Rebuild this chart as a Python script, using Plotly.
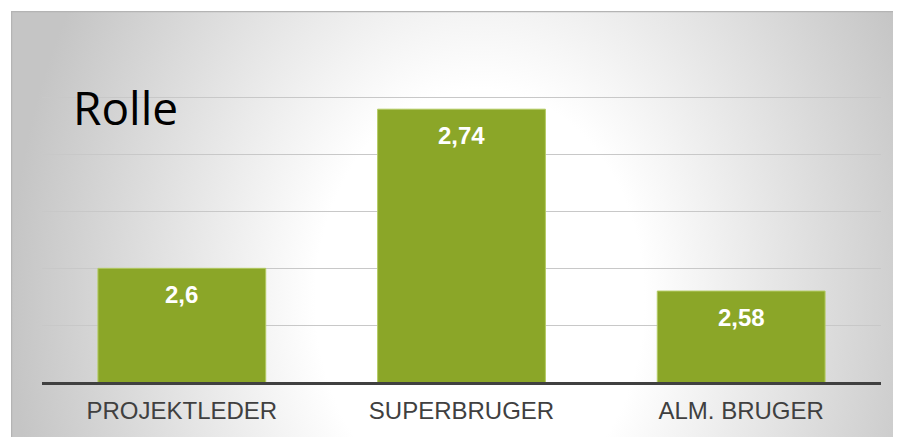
import plotly.graph_objects as go

roles = ["PROJEKTLEDER", "SUPERBRUGER", "ALM. BRUGER"]
scores = [2.6, 2.74, 2.58]
score_labels = [f"{v:g}".replace(".", ",") for v in scores]

chart_title = "Rolle"
bar_color = "#8ba628"

# elliptical grey-to-white backdrop, drawn as an svg image behind the plot
backdrop_svg = (
    "<svg xmlns='http://www.w3.org/2000/svg' width='910' height='440' viewBox='0 0 910 440'>"
    "<defs><radialGradient id='g' gradientUnits='userSpaceOnUse' cx='469' cy='0' r='470' "
    "gradientTransform='translate(0,289) scale(1,1.28)'>"
    "<stop offset='0' stop-color='#ffffff'/>"
    "<stop offset='0.35' stop-color='#ffffff'/>"
    "<stop offset='1' stop-color='#c5c5c5'/>"
    "</radialGradient></defs>"
    "<rect x='0' y='0' width='910' height='440' fill='url(#g)'/>"
    "<path d='M0.5,440 L0.5,0.5 L910,0.5' fill='none' stroke='#b4b4b4' stroke-width='1.5'/>"
    "</svg>"
)
backdrop_uri = "data:image/svg+xml;charset=utf-8," + backdrop_svg.replace("#", "%23")

fig = go.Figure()
fig.add_trace(
    go.Bar(
        x=roles,
        y=scores,
        marker=dict(color=bar_color, line=dict(color="#b3cb62", width=1)),
        hoverinfo="x+y",
    )
)

for role, val, label in zip(roles, scores, score_labels):
    fig.add_annotation(
        x=role,
        y=val,
        text=f"<b>{label}</b>",
        showarrow=False,
        yanchor="middle",
        yshift=-26,
        font=dict(family="Liberation Sans, Arial", size=24, color="white"),
    )

fig.add_annotation(
    xref="paper",
    yref="paper",
    x=0.034,
    y=0.805,
    xanchor="left",
    yanchor="middle",
    text=chart_title,
    showarrow=False,
    font=dict(family="Open Sans", size=46, color="black"),
)

fig.add_layout_image(
    source=backdrop_uri,
    xref="paper",
    yref="paper",
    x=-0.037,
    y=1.088,
    sizex=1.0846,
    sizey=1.290,
    xanchor="left",
    yanchor="top",
    sizing="stretch",
    layer="below",
)

# the page body has an 8px margin, so the figure is shrunk by that much
fig.update_layout(
    width=893,
    height=429,
    margin=dict(l=34, r=20, t=33, b=55),
    paper_bgcolor="white",
    plot_bgcolor="rgba(0,0,0,0)",
    bargap=0.4,
    showlegend=False,
    xaxis=dict(
        showline=True,
        linecolor="#404040",
        linewidth=3,
        showgrid=False,
        ticks="",
        ticklabelstandoff=5,
        tickfont=dict(family="Liberation Sans, Arial", size=24, color="#404040"),
    ),
    yaxis=dict(
        range=[2.5, 2.8],
        tick0=2.5,
        dtick=0.05,
        showticklabels=False,
        showgrid=True,
        gridcolor="#c8c8c8",
        gridwidth=1,
        zeroline=False,
    ),
)

fig.write_html("out.html")
